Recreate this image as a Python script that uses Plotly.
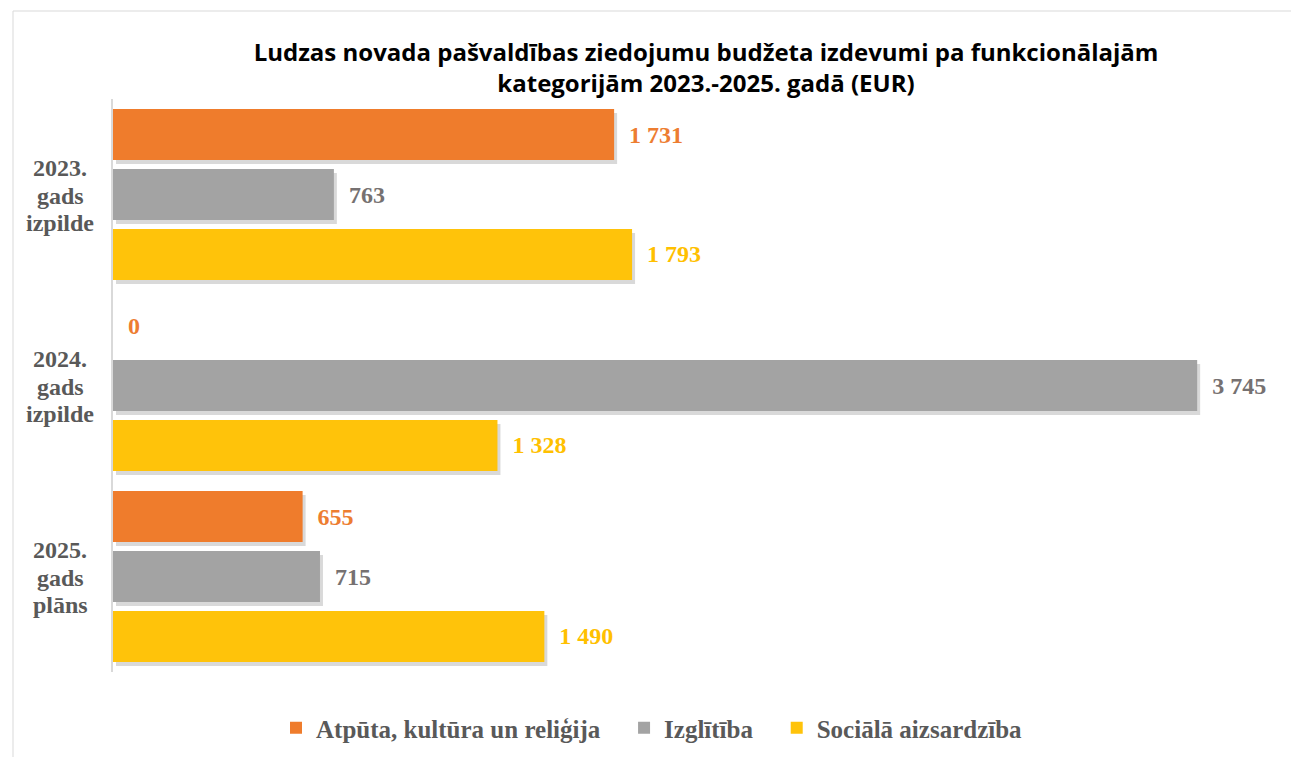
import plotly.graph_objects as go

categories = ["2023.<br>gads<br>izpilde", "2024.<br>gads<br>izpilde", "2025.<br>gads<br>plāns"]
series_names = ["Atpūta, kultūra un reliģija", "Izglītība", "Sociālā aizsardzība"]
atputa = [1731, 0, 655]
izglitiba = [763, 3745, 715]
sociala = [1793, 1328, 1490]
series_values = [atputa, izglitiba, sociala]
bar_colors = ["#EF7C2C", "#A3A3A3", "#FFC30A"]
label_colors = ["#ED7D31", "#767171", "#FFC000"]

title_text = "Ludzas novada pašvaldības ziedojumu budžeta izdevumi pa funkcionālajām<br>kategorijām 2023.-2025. gadā (EUR)"

W, H = 1291, 757
L, R, T, B = 113, 20, 99, 85
pw, ph = W - L - R, H - T - B
XMAX = 4000
px_x = XMAX / pw           # data units per pixel (x)
px_y = len(categories) / ph  # category units per pixel (y)
sx, sy = 3, 4              # shadow offset in pixels

fig = go.Figure()
# soft shadows (base axes, shifted)
for name, vals in zip(series_names, series_values):
    fig.add_trace(go.Bar(
        y=categories, x=vals, orientation="h", showlegend=False, hoverinfo="skip",
        marker=dict(color="rgba(0,0,0,0.15)", line=dict(width=0)),
        xaxis="x", yaxis="y",
    ))
# main bars (overlay axes)
for i, (name, vals, bc, lc) in enumerate(zip(series_names, series_values, bar_colors, label_colors)):
    pad = "\u00a0\u00a0\u00a0" if i < len(series_names) - 1 else ""
    fig.add_trace(go.Bar(
        y=categories, x=vals, name="<b>" + name + "</b>" + pad, orientation="h",
        marker=dict(color=bc, line=dict(width=0)),
        texttemplate="\u00a0\u00a0<b>%{x:,}</b>", textposition="outside",
        textfont=dict(family="Liberation Serif", size=24, color=lc),
        cliponaxis=False, xaxis="x2", yaxis="y2",
    ))

# category labels, one annotation per line (tighter line spacing as in the original)
line_step = 27.5
for c in categories:
    lines = c.split("<br>")
    mid = (len(lines) - 1) / 2
    for k, ln in enumerate(lines):
        fig.add_annotation(
            x=(60 - L) / pw, xref="paper", y=c, yref="y2",
            yshift=-1 - (k - mid) * line_step, text="<b>" + ln + "</b>",
            showarrow=False, align="center", xanchor="center", yanchor="middle",
            font=dict(family="Liberation Serif", size=24, color="#595959"),
        )

fig.add_shape(type="rect", xref="paper", yref="paper",
              x0=(13 - L) / pw, x1=(W + 5 - L) / pw,
              y0=(H - B - (H + 5)) / ph, y1=(H - B - 11) / ph,
              line=dict(color="#D9D9D9", width=1), fillcolor="rgba(0,0,0,0)", layer="below")

n = len(categories)
fig.update_layout(
    width=W, height=H,
    margin=dict(l=L, r=R, t=T, b=B),
    paper_bgcolor="white", plot_bgcolor="white",
    separators=", ",
    barmode="group", bargap=0.058, bargroupgap=0.15,
    title=dict(text="<b>" + title_text + "</b>", x=706 / W, xanchor="center",
               y=1 - 61 / H, yanchor="middle",
               font=dict(family="Open Sans", size=24, color="#000000")),
    xaxis=dict(range=[-sx * px_x, XMAX - sx * px_x], showgrid=False, showticklabels=False,
               zeroline=False, showline=False, ticks=""),
    yaxis=dict(range=[n - 0.5 - sy * px_y, -0.5 - sy * px_y], showticklabels=False,
               showgrid=False, showline=False, ticks=""),
    xaxis2=dict(range=[0, XMAX], overlaying="x", showgrid=False, showticklabels=False,
                zeroline=False, showline=False, ticks=""),
    yaxis2=dict(range=[n - 0.5, -0.5], overlaying="y", showticklabels=False, showgrid=False,
                showline=True, linecolor="#D9D9D9", linewidth=2, ticks=""),
    legend=dict(orientation="h", xref="container", x=652 / W, xanchor="center",
                yref="container", y=1 - 728 / H, yanchor="middle",
                font=dict(family="Liberation Serif", size=25, color="#595959"),
                itemwidth=30, traceorder="normal"),
    showlegend=True,
)

fig.write_html("out.html", config={"displayModeBar": False},
               post_script="document.body.style.margin='0px';")
